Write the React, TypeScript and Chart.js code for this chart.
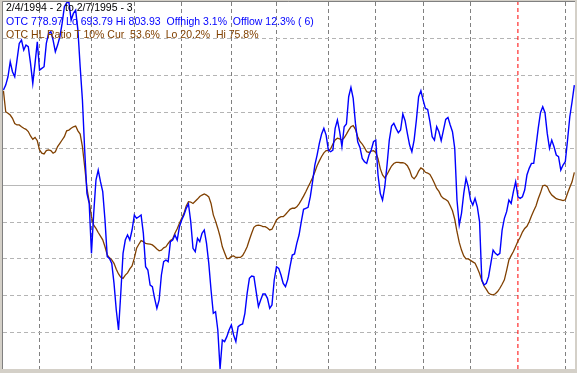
import React, { useEffect, useRef } from "react";
import { Chart, registerables } from "chart.js";

Chart.register(...registerables);

// OTC (Nasdaq composite) daily closes, 2/4/1994 .. 2/7/1995
const otcValues: number[] = [
  777.5, 779.0, 781.5, 786.0, 783.0, 781.5, 786.5, 791.5, 792.5, 789.5,
  791.0, 790.5, 785.5, 779.5, 785.5, 792.0, 783.5, 784.0, 784.5, 791.5,
  794.5, 795.0, 792.5, 789.0, 791.0, 793.5, 797.5, 802.5, 803.7, 803.93,
  798.5, 800.5, 801.5, 795.5, 784.5, 774.5, 759.5, 746.5, 743.5, 728.5,
  740.5, 750.5, 753.5, 750.0, 747.0, 738.5, 727.5, 727.0, 725.5, 719.5,
  711.5, 705.5, 716.5, 728.5, 732.5, 734.0, 732.5, 735.5, 740.0, 739.0,
  739.5, 740.0, 734.5, 724.5, 723.5, 719.0, 718.5, 715.0, 712.0, 714.5,
  722.0, 726.0, 726.5, 726.0, 732.0, 732.5, 734.0, 732.5, 736.5, 738.5,
  740.0, 742.0, 743.3, 738.0, 730.0, 729.0, 733.0, 732.0, 734.5, 735.5,
  731.5, 725.5, 717.5, 710.5, 711.0, 705.5, 693.79, 702.5, 702.0, 703.5,
  705.5, 707.0, 704.0, 702.0, 706.5, 707.0, 707.3, 710.5, 716.5, 721.0,
  721.7, 721.5, 717.0, 712.5, 714.5, 716.3, 716.3, 715.0, 712.0, 713.0,
  720.5, 724.5, 724.0, 722.0, 719.5, 718.5, 720.7, 724.5, 728.0, 728.3,
  731.5, 734.0, 738.0, 741.7, 742.0, 742.3, 745.5, 750.0, 755.0, 758.0,
  761.5, 764.3, 766.0, 764.0, 759.5, 759.0, 759.5, 766.0, 768.5, 765.0,
  760.5, 766.5, 767.3, 775.5, 778.3, 775.0, 767.5, 762.0, 760.3, 757.0,
  756.0, 755.5, 758.0, 759.5, 762.0, 762.5, 752.0, 746.5, 744.5, 748.5,
  755.0, 762.5, 766.7, 767.5, 766.0, 764.7, 765.5, 770.3, 768.3, 764.5,
  761.0, 759.0, 762.5, 768.5, 775.5, 777.3, 774.5, 772.0, 771.7, 768.0,
  763.5, 762.5, 766.5, 765.0, 762.3, 765.5, 768.7, 769.3, 767.0, 765.0,
  760.0, 744.5, 737.0, 740.5, 746.5, 751.0, 748.5, 744.5, 743.0, 745.0,
  742.5, 738.0, 720.5, 719.0, 719.5, 721.5, 725.5, 729.5, 728.5, 728.0,
  728.5, 735.5, 739.0, 741.0, 744.5, 743.5, 747.0, 750.0, 745.5, 745.0,
  745.5, 747.5, 752.0, 754.0, 755.5, 755.5, 760.5, 766.0, 770.7, 772.5,
  770.7, 764.5, 760.0, 762.5, 760.5, 758.0, 757.5, 753.5, 755.0, 756.0,
  762.5, 769.5, 774.0, 778.97,
];

// OTC High/Low ratio (10% threshold), percent
const hlRatioValues: number[] = [
  75.8, 70.1, 69.7, 69.2, 68.3, 66.9, 66.5, 66.5, 66.0, 65.6,
  65.3, 64.7, 63.5, 62.6, 63.1, 62.2, 59.7, 58.8, 58.6, 59.5,
  59.7, 59.5, 58.8, 59.2, 60.6, 61.5, 62.4, 63.3, 64.9, 65.1,
  65.6, 66.0, 66.2, 64.9, 64.0, 60.6, 55.1, 49.2, 45.6, 41.5,
  39.2, 38.3, 37.2, 36.2, 35.2, 33.3, 31.1, 30.3, 29.7, 28.8,
  27.2, 25.9, 25.0, 24.7, 25.6, 26.2, 27.3, 28.1, 30.2, 32.9,
  34.0, 35.0, 34.7, 34.2, 34.1, 34.0, 33.8, 33.3, 32.7, 32.2,
  32.4, 33.0, 33.3, 34.2, 35.0, 35.4, 37.0, 38.2, 39.7, 41.1,
  42.4, 44.4, 45.6, 45.5, 45.1, 45.7, 46.3, 47.0, 47.4, 47.7,
  47.4, 46.9, 45.1, 42.0, 40.3, 38.3, 36.1, 33.3, 31.7, 30.1,
  30.1, 30.7, 30.8, 30.4, 30.4, 30.4, 30.9, 32.0, 33.3, 35.2,
  37.0, 38.6, 39.1, 39.2, 39.1, 38.8, 38.8, 38.4, 37.9, 38.1,
  39.3, 40.6, 41.2, 41.5, 41.5, 42.1, 42.8, 43.5, 43.8, 43.8,
  44.2, 45.0, 46.0, 47.1, 48.3, 49.6, 50.8, 52.1, 53.7, 55.4,
  56.7, 57.9, 58.9, 59.5, 59.5, 60.0, 61.3, 62.4, 62.9, 62.7,
  62.4, 63.0, 64.0, 65.1, 66.0, 66.3, 65.3, 63.3, 62.0, 61.3,
  60.3, 59.2, 59.0, 59.4, 59.5, 59.0, 57.3, 54.6, 52.9, 52.1,
  53.0, 54.2, 55.3, 56.0, 56.3, 56.3, 56.2, 56.2, 56.0, 55.4,
  54.2, 52.4, 51.8, 52.6, 53.9, 54.8, 54.4, 53.6, 53.4, 53.0,
  51.9, 50.6, 49.2, 48.4, 47.1, 46.5, 46.2, 45.7, 44.5, 43.1,
  40.8, 37.4, 34.5, 32.4, 30.8, 30.0, 30.0, 29.6, 29.2, 28.8,
  27.5, 26.0, 24.1, 22.6, 21.7, 20.7, 20.3, 20.2, 20.5, 21.1,
  22.0, 23.1, 24.3, 26.9, 29.7, 30.9, 32.0, 33.4, 34.8, 35.9,
  37.3, 38.3, 38.9, 40.1, 41.7, 43.1, 44.4, 46.4, 48.0, 49.9,
  50.1, 49.7, 48.3, 47.4, 46.9, 46.4, 46.2, 46.1, 45.9, 46.1,
  47.9, 49.5, 51.0, 53.6,
];

// trading-day index of the first session of each month (Mar 1994 .. Feb 1995)
const monthStartIndex: number[] = [16, 39, 58, 79, 101, 121, 144, 165, 186, 207, 249];
const yearStartIndex = 228;
const ratioGridTicks: number[] = [10, 20, 30, 40, 60, 70, 80, 90];
const ratioMidTick: number[] = [50];
const ratioMin = 0;
const ratioMax = 100;
const otcLo = 693.79;
const otcHi = 803.93;

const titleLine = "2/4/1994 - 2 to 2/7/1995 - 3";
const otcLine = "OTC 778.97 Lo 693.79 Hi 803.93  Offhigh 3.1%  Offlow 12.3% ( 6)";
const ratioLine = "OTC HL Ratio T 10% Cur  53.6%  Lo 20.2%  Hi 75.8%";

const W = 577;
const H = 373;

function gridAxis(values: number[], color: string, dash: number[], horizontal: boolean, min: number, max: number) {
  return {
    type: "linear",
    position: horizontal ? "bottom" : "left",
    min,
    max,
    afterBuildTicks: (s: any) => {
      s.ticks = values.map((v) => ({ value: v }));
    },
    ticks: { display: false },
    grid: { drawTicks: false, lineWidth: 1, color },
    border: { display: false, dash },
  };
}

export default function App() {
  const ref = useRef<HTMLCanvasElement | null>(null);

  useEffect(() => {
    document.body.style.margin = "0";
    const canvas = ref.current;
    if (!canvas) return;

    const framePlugin = {
      id: "frame",
      beforeDraw(chart: any) {
        const ctx = chart.ctx;
        const a = chart.chartArea;
        ctx.save();
        ctx.fillStyle = "#d4d0c8";
        ctx.fillRect(0, 0, W, H);
        ctx.fillStyle = "#ffffff";
        ctx.fillRect(a.left, a.top, a.right - a.left, a.bottom - a.top);
        ctx.strokeStyle = "#808080";
        ctx.lineWidth = 1;
        ctx.beginPath();
        ctx.moveTo(a.left - 0.5, a.bottom);
        ctx.lineTo(a.left - 0.5, a.top - 0.5);
        ctx.lineTo(a.right, a.top - 0.5);
        ctx.stroke();
        ctx.restore();
      },
    };

    const xMin = -0.2;
    const xMax = 253.3;

    const chart = new Chart(canvas, {
      type: "line",
      data: {
        datasets: [
          {
            label: "OTC",
            data: otcValues.map((v, i) => ({ x: i, y: v })),
            xAxisID: "x",
            yAxisID: "yOtc",
            borderColor: "#0000ff",
            borderWidth: 1.4,
            pointRadius: 0,
            tension: 0,
            fill: false,
          },
          {
            label: "OTC HL Ratio",
            data: hlRatioValues.map((v, i) => ({ x: i, y: v })),
            xAxisID: "x",
            yAxisID: "y",
            borderColor: "#804000",
            borderWidth: 1.3,
            pointRadius: 0,
            tension: 0,
            fill: false,
          },
          {
            label: "Year start",
            data: [
              { x: yearStartIndex, y: ratioMin },
              { x: yearStartIndex, y: ratioMax },
            ],
            xAxisID: "x",
            yAxisID: "y",
            borderColor: "#ff0000",
            borderWidth: 1,
            borderDash: [4, 3],
            pointRadius: 0,
            tension: 0,
            fill: false,
          },
        ],
      },
      options: {
        animation: false,
        responsive: false,
        maintainAspectRatio: false,
        layout: { padding: { left: 3, top: 2, right: 2, bottom: 4 } },
        plugins: { legend: { display: false }, tooltip: { enabled: false }, title: { display: false } },
        scales: {
          x: gridAxis(monthStartIndex, "#808080", [4, 3], true, xMin, xMax),
          y: gridAxis(ratioGridTicks, "#b4b4b4", [4, 3], false, ratioMin, ratioMax),
          yMid: gridAxis(ratioMidTick, "#b8b8b8", [], false, ratioMin, ratioMax),
          yOtc: {
            type: "linear",
            display: false,
            min: otcLo,
            max: otcHi,
          },
        },
      } as any,
      plugins: [framePlugin],
    });
    return () => chart.destroy();
  }, []);

  const textStyle: React.CSSProperties = {
    position: "absolute",
    left: 6,
    fontFamily: '"Liberation Sans", Arial, sans-serif',
    fontSize: "10.5px",
    lineHeight: "13px",
    whiteSpace: "pre",
    margin: 0,
  };

  return (
    <div style={{ position: "relative", width: W, height: H }}>
      <canvas ref={ref} width={W} height={H} style={{ display: "block", width: W, height: H }} />
      <div style={{ ...textStyle, top: 1, color: "#000000" }}>{titleLine}</div>
      <div style={{ ...textStyle, top: 14.5, color: "#0000ff" }}>{otcLine}</div>
      <div style={{ ...textStyle, top: 27.5, color: "#804000" }}>{ratioLine}</div>
    </div>
  );
}
